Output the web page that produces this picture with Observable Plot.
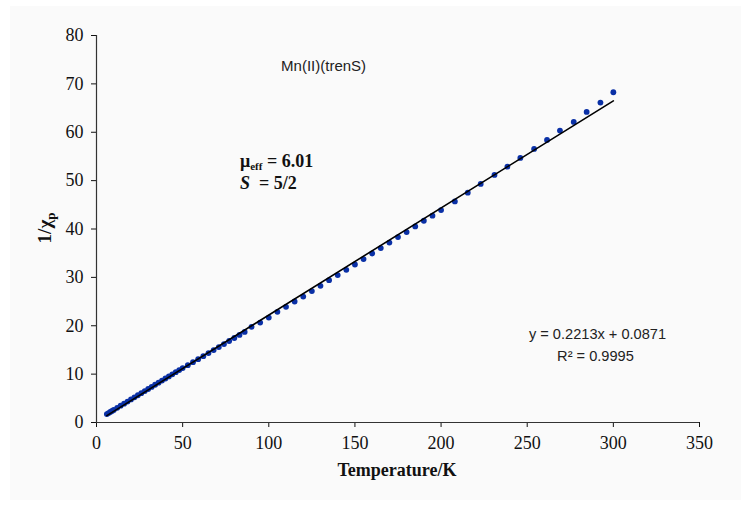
<!DOCTYPE html>
<html>
<head>
<meta charset="utf-8">
<script src="https://cdn.jsdelivr.net/npm/d3@7"></script>
<script src="https://cdn.jsdelivr.net/npm/@observablehq/plot@0.6"></script>
<style>
  html, body { margin: 0; padding: 0; background: #ffffff; }
  #wrap { position: relative; width: 741px; height: 508px; overflow: hidden; }
  #panel { position: absolute; left: 10px; top: 6px; width: 731px; height: 494px; background: #fafafa; }
  #chart { position: absolute; left: 0; top: 0; }
</style>
</head>
<body>
<div id="wrap"><div id="panel"></div><div id="chart"></div></div>
<script>
// Temperature (K)
const temperature = [6,7,8,9,10,12,14,16,18,20,22,24,26,28,30,32,34,36,38,40,42,44,46,48,50,
  53,56,59,62,65,68,71,74,77,80,83,86,
  90,95,100,105,110,115,120,125,130,135,140,145,150,155,160,165,170,175,180,185,190,195,200,
  208,215.5,223,231,238.5,246,254,261.5,269,277,284.5,292.5,300];
// 1/chi_p
const invChi = [1.75,1.95,2.17,2.38,2.60,3.03,3.47,3.90,4.33,4.77,5.20,5.63,6.06,6.50,6.93,7.36,7.80,8.23,8.66,9.10,9.53,9.96,10.40,10.83,11.26,
  11.85,12.48,13.10,13.72,14.35,14.98,15.60,16.22,16.85,17.47,18.10,18.72,
  19.77,20.66,21.69,22.87,23.91,25.01,26.04,27.16,28.26,29.43,30.47,31.57,32.66,33.78,34.94,36.05,37.2,38.34,39.37,40.53,41.71,42.75,43.92,
  45.70,47.51,49.31,51.17,52.89,54.69,56.55,58.41,60.34,62.14,64.21,66.13,68.27];
// Linear trendline y = slope*x + intercept
const fitSlope = 0.2213;
const fitIntercept = 0.0871;
const xTicks = [0,50,100,150,200,250,300,350];
const yTicks = [0,10,20,30,40,50,60,70,80];

const data = temperature.map((t, i) => ({T: t, v: invChi[i]}));
const tMin = d3.min(temperature), tMax = d3.max(temperature);
const fitLine = [tMin, tMax].map(t => ({T: t, v: fitSlope * t + fitIntercept}));

const sans = "'Liberation Sans', Arial, sans-serif";
const serif = "'Liberation Serif', 'Times New Roman', serif";

const chart = Plot.plot({
  width: 741,
  height: 508,
  marginLeft: 96,
  marginRight: 42,
  marginTop: 35,
  marginBottom: 86,
  style: {background: "transparent", fontFamily: serif, fontSize: "18px", color: "#111"},
  x: {domain: [0, 350], ticks: xTicks, tickSize: 5, tickPadding: 9, label: null},
  y: {domain: [0, 80], ticks: yTicks, tickSize: 5, tickPadding: 8, label: null},
  marks: [
    Plot.ruleX([0], {stroke: "#333", strokeWidth: 1.2}),
    Plot.ruleY([0], {stroke: "#333", strokeWidth: 1.2}),
    Plot.dot(data, {x: "T", y: "v", r: 2.9, fill: "#0a30a6", stroke: "none"}),
    Plot.line(fitLine, {x: "T", y: "v", stroke: "#000", strokeWidth: 1.6}),
    Plot.text(["Mn(II)(trenS)"], {x: 131.8, y: 73.6, text: d => d, fontFamily: sans, fontSize: 15, fill: "#222"}),
    Plot.text([`y = ${fitSlope}x + ${fitIntercept}`], {x: 290.8, y: 18.3, text: d => d, fontFamily: sans, fontSize: 14.6, fill: "#222"}),
    Plot.text(["R² = 0.9995"], {x: 289.6, y: 13.76, text: d => d, fontFamily: sans, fontSize: 14.6, fill: "#222"})
  ]
});
document.getElementById("chart").appendChild(chart);

const svg = d3.select(chart.tagName.toLowerCase() === "svg" ? chart : chart.querySelector("svg"));
const sx = chart.scale("x"), sy = chart.scale("y");

// mu_eff annotation
const mu = svg.append("text")
  .attr("x", sx.apply(83.6)).attr("y", sy.apply(52.7))
  .attr("text-anchor", "start")
  .attr("font-family", serif).attr("font-size", 18).attr("font-weight", "bold").attr("fill", "#111");
mu.append("tspan").text("μ");
mu.append("tspan").attr("font-size", 11).attr("dy", 3).text("eff");
mu.append("tspan").attr("dy", -3).text(" = 6.01");

const s = svg.append("text")
  .attr("x", sx.apply(83.6)).attr("y", sy.apply(48.1))
  .attr("text-anchor", "start")
  .attr("font-family", serif).attr("font-size", 18).attr("font-weight", "bold").attr("fill", "#111");
s.append("tspan").attr("font-style", "italic").text("S");
s.append("tspan").text("  = 5/2");

// axis titles
svg.append("text")
  .attr("x", 397).attr("y", 476)
  .attr("text-anchor", "middle")
  .attr("font-family", serif).attr("font-size", 18).attr("font-weight", "bold").attr("fill", "#111")
  .text("Temperature/K");

const yl = svg.append("text")
  .attr("transform", "translate(51,228) rotate(-90)")
  .attr("text-anchor", "middle")
  .attr("font-family", serif).attr("font-size", 19).attr("font-weight", "bold").attr("fill", "#111");
yl.append("tspan").text("1/χ");
yl.append("tspan").attr("font-size", 13).attr("dy", 4).text("p");
</script>
</body>
</html>
